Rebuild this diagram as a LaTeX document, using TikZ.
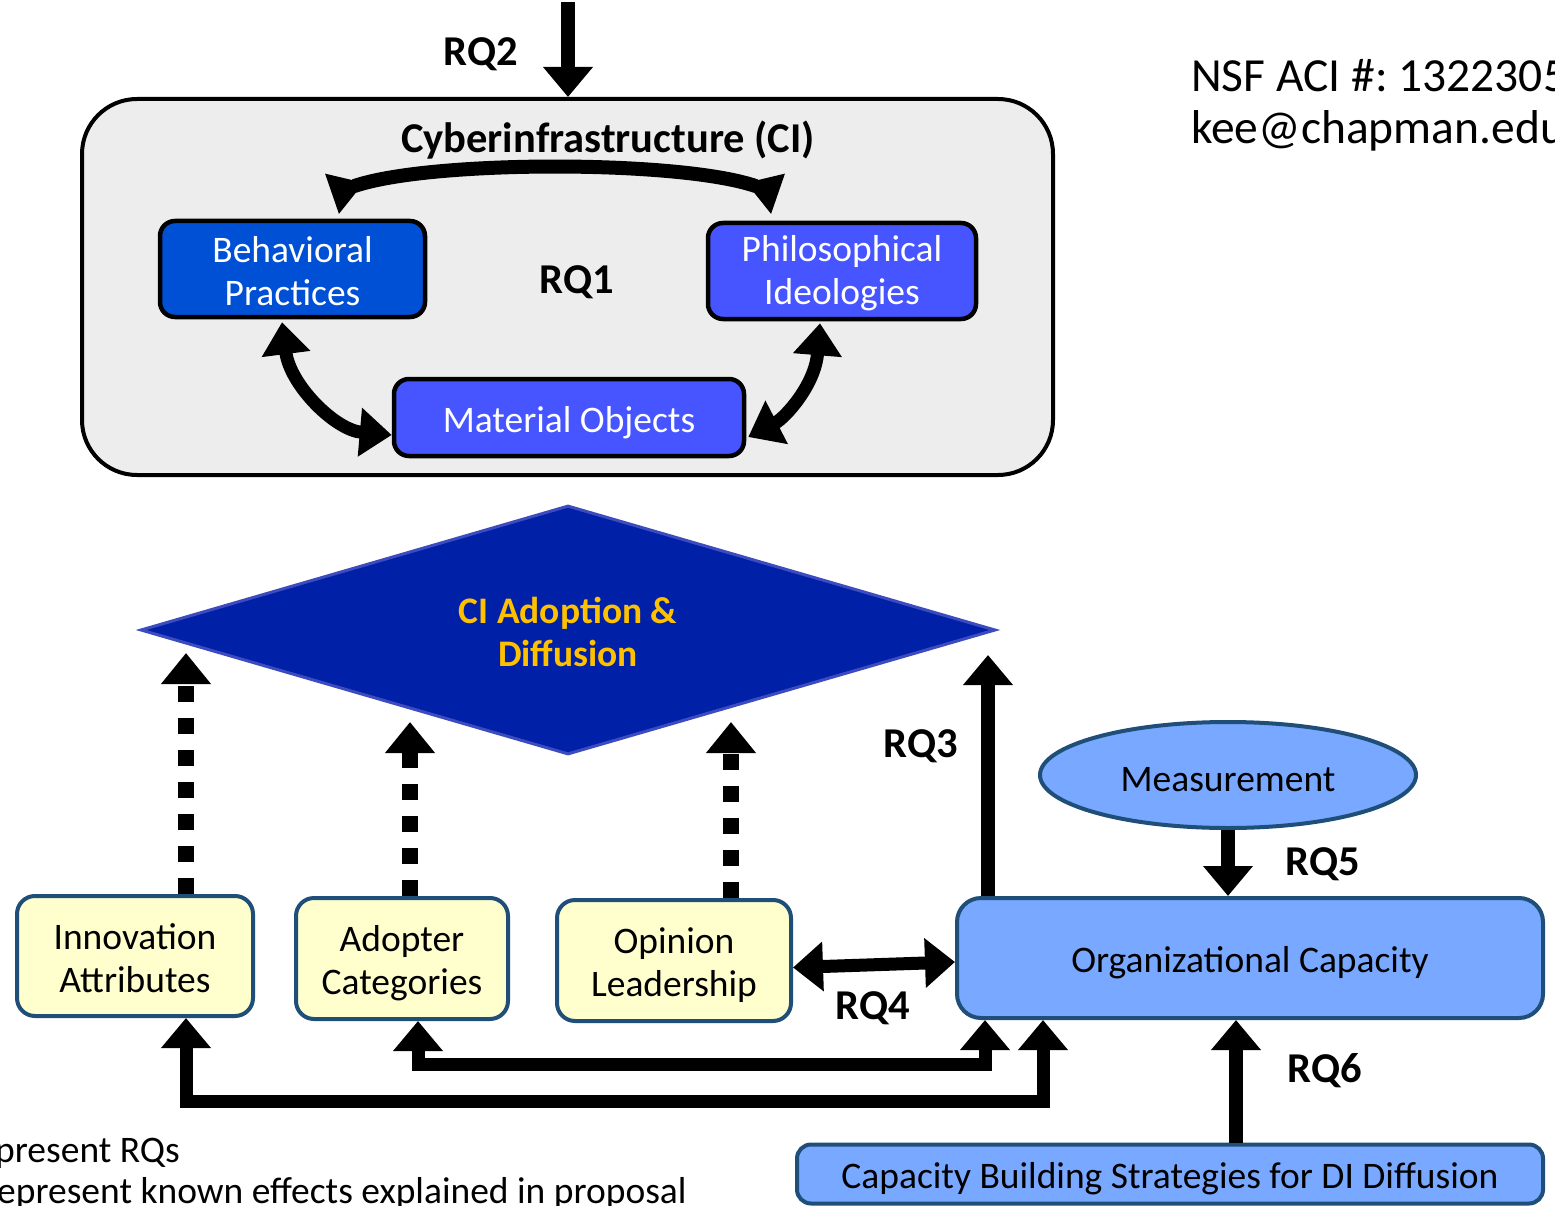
\documentclass[tikz,border=0pt]{standalone}
\usepackage{fontspec}
\setmainfont{Carlito}
\usetikzlibrary{arrows.meta,shapes.geometric}
\definecolor{cibg}{RGB}{237,237,237}
\definecolor{bpblue}{RGB}{0,80,213}
\definecolor{pblue}{RGB}{70,85,255}
\definecolor{dmdfill}{RGB}{0,32,168}
\definecolor{dmdborder}{RGB}{60,75,190}
\definecolor{gold}{RGB}{255,192,0}
\definecolor{ltblue}{RGB}{120,168,255}
\definecolor{bord}{RGB}{31,78,121}
\definecolor{ylw}{RGB}{255,255,206}
\newcommand{\dn}[1]{\raisebox{-5pt}[\height][\depth]{#1}}
\newcommand{\dnb}[1]{\raisebox{-2pt}[\height][\depth]{#1}}
\tikzset{
  txt/.style={font=\fontsize{37.5}{43}\selectfont},
  darkbox/.style={rectangle, rounded corners=15pt, draw=black, line width=4.5pt, text=white, align=center, inner sep=0pt, txt},
  ylwbox/.style={rectangle, rounded corners=18pt, draw=bord, fill=ylw, line width=4pt, align=center, inner sep=0pt, txt},
  bluebox/.style={rectangle, rounded corners=18pt, draw=bord, fill=ltblue, line width=4pt, align=center, inner sep=0pt, txt},
  rqlabel/.style={font=\bfseries\fontsize{42.5}{50}\selectfont, inner sep=0pt},
  solidarrow/.style={line width=14pt, -{Triangle[length=30pt,width=48pt]}},
  dblsolid/.style={line width=13pt, line join=miter, {Triangle[length=30pt,width=48pt]}-{Triangle[length=30pt,width=48pt]}},
  dotarrow/.style={line width=16pt, dash pattern=on 16pt off 16pt, -{Triangle[length=31pt,width=48pt]}},
  curvearrow/.style={line width=13pt, {Triangle[length=32pt,width=47pt]}-{Triangle[length=32pt,width=47pt]}},
  topcurve/.style={line width=14pt, {Triangle[reversed,length=34pt,width=40pt]}-{Triangle[reversed,length=34pt,width=40pt]}}
}
\begin{document}
\frenchspacing
\begin{tikzpicture}[x=1pt,y=-1pt]
\useasboundingbox (0,0) rectangle (1555,1206);
\fill[white] (0,0) rectangle (1555,1206);

% CI container
\node[rectangle, rounded corners=55pt, draw=black, fill=cibg, line width=4pt, minimum width=971pt, minimum height=376pt, inner sep=0pt] (ci) at (567.5,287) {};
\node[font=\bfseries\fontsize{42.5}{50}\selectfont, inner sep=0pt] (title) at (608,140) {Cyberinfrastructure (CI)};
\node[darkbox, fill=bpblue, minimum width=265pt, minimum height=96pt] (bp) at (292.5,269) {\dnb{Behavioral}\\\dnb{Practices}};
\node[darkbox, fill=pblue, minimum width=268pt, minimum height=96pt] (pi) at (842,271) {\dnb{Philosophical}\\\dnb{Ideologies}};
\node[darkbox, fill=pblue, minimum width=350pt, minimum height=77pt] (mo) at (569,417.5) {\dn{Material Objects}};
\node[rqlabel] (rq1) at (577,282) {RQ1};

% top RQ2 arrow
\coordinate (rq2top) at (568,2);
\draw[solidarrow] (rq2top) -- (rq2top |- ci.north);
\node[rqlabel] (rq2) at (481,54) {RQ2};

% curved arrows inside CI
\draw[topcurve] ([xshift=39.5pt,yshift=25pt]bp.north) .. controls (430,160) and (680,160) .. ([xshift=-64pt,yshift=27pt]pi.north);
\draw[curvearrow] ([xshift=-10.5pt,yshift=-3pt]bp.south) .. controls (290,385) and (335,430) .. ([yshift=-17.5pt]mo.west);
\draw[curvearrow] ([xshift=-22pt,yshift=-2pt]pi.south) .. controls (815,385) and (785,418) .. ([xshift=2pt,yshift=-19.5pt]mo.east);

% diamond
\node[diamond, aspect=3.4, minimum width=855pt, minimum height=249pt, inner sep=0pt, fill=dmdfill, draw=dmdborder, line width=3pt, text=gold, align=center, font=\bfseries\fontsize{37.5}{43}\selectfont] (dd) at (568,630) {\dnb{CI Adoption \&}\\\dnb{Diffusion}};

% lower boxes
\node[ylwbox, minimum width=236pt, minimum height=120pt] (ia) at (135,956) {\dnb{Innovation}\\\dnb{Attributes}};
\node[ylwbox, minimum width=212pt, minimum height=121pt] (ac) at (402,958.5) {\dn{Adopter}\\\dn{Categories}};
\node[ylwbox, minimum width=234pt, minimum height=121pt] (ol) at (674,960.5) {\dn{Opinion}\\\dn{Leadership}};
\node[bluebox, minimum width=586pt, minimum height=120pt, rounded corners=24pt] (oc) at (1250,958) {\dn{Organizational Capacity}};
\node[ellipse, draw=bord, fill=ltblue, line width=4pt, minimum width=376pt, minimum height=106pt, inner sep=0pt, txt] (meas) at (1228,775) {\dn{Measurement}};
\node[bluebox, minimum width=746pt, minimum height=59pt, rounded corners=14pt] (cb) at (1170,1174) {\dn{Capacity Building Strategies for DI Diffusion}};

% dotted arrows to diamond
\coordinate (d1) at (186,653);
\coordinate (d2) at (410,722);
\coordinate (d3) at (731,722);
\draw[dotarrow] ([xshift=51pt]ia.north) -- (d1);
\draw[dotarrow] ([xshift=8pt]ac.north) -- (d2);
\draw[dotarrow] ([xshift=57pt]ol.north) -- (d3);

% RQ3
\coordinate (d4) at (988,655);
\draw[solidarrow] ([xshift=33pt]oc.north west) -- (d4);
\node[rqlabel] (rq3) at (921,746) {RQ3};

% RQ5
\draw[solidarrow] (meas.south) -- (meas.south |- oc.north);
\node[rqlabel] (rq5) at (1323,864) {RQ5};

% RQ4
\draw[dblsolid] ([yshift=-7pt]ol.east) -- ([yshift=-4pt]oc.west);
\node[rqlabel] (rq4) at (873,1008) {RQ4};

% RQ6
\coordinate (r6s) at ([xshift=66pt]cb.north);
\draw[solidarrow] (r6s) -- (r6s |- oc.south);
\node[rqlabel] (rq6) at (1325,1071) {RQ6};

% bottom connectors
\coordinate (pa1) at ([xshift=16pt]ac.south);
\coordinate (pa2) at ([xshift=30pt]oc.south west);
\coordinate (ya) at (0,1064);
\draw[dblsolid] (pa1) -- (pa1 |- ya) -- (pa2 |- ya) -- (pa2);
\coordinate (pb1) at ([xshift=51pt]ia.south);
\coordinate (pb2) at ([xshift=88pt]oc.south west);
\coordinate (yb) at (0,1101);
\draw[dblsolid] (pb1) -- (pb1 |- yb) -- (pb2 |- yb) -- (pb2);

% side texts
\node[anchor=west, inner sep=0pt, font=\fontsize{47.5}{56}\selectfont] (nsf) at (1191,76) {NSF ACI \#: 1322305};
\node[anchor=west, inner sep=0pt, font=\fontsize{47.5}{56}\selectfont] (mail) at (1191,131) {kee@chapman.edu};
\node[anchor=west, inner sep=0pt, txt] (leg1) at (-5,1153) {present RQs};
\node[anchor=west, inner sep=0pt, txt] (leg2) at (-3,1193) {epresent known effects explained in proposal};
\end{tikzpicture}
\end{document}
